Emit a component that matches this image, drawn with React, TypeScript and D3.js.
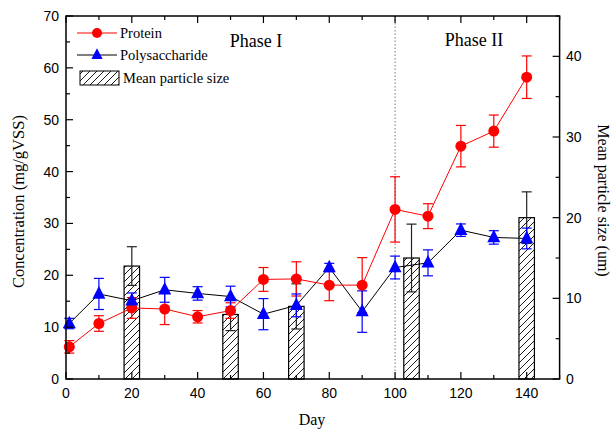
import React from 'react';
import * as d3 from 'd3';

const days = [1, 10, 20, 30, 40, 50, 60, 70, 80, 90, 100, 110, 120, 130, 140];
const protein = [6.2, 10.7, 13.7, 13.5, 12.0, 13.2, 19.2, 19.3, 18.1, 18.1, 32.7, 31.4, 44.9, 47.8, 58.2];
const proteinErr = [1.2, 1.5, 2.0, 3.0, 1.2, 1.5, 2.3, 3.3, 3.0, 5.3, 6.3, 2.4, 4.0, 3.1, 4.1];
const poly = [10.7, 16.4, 15.1, 17.2, 16.5, 15.9, 12.5, 14.2, 21.5, 13.0, 21.5, 22.4, 28.7, 27.3, 27.1];
const polyErr = [1.0, 3.0, 1.5, 2.4, 1.3, 2.0, 3.0, 2.2, 0.8, 4.0, 2.2, 2.5, 1.2, 1.3, 2.0];

const sizeDays = [20, 50, 70, 105, 140];
const sizeMean = [14.0, 8.0, 9.0, 15.0, 20.0];
const sizeErr = [2.4, 2.0, 2.8, 4.2, 3.2];

const xTicks = [0, 20, 40, 60, 80, 100, 120, 140];
const yTicks = [0, 10, 20, 30, 40, 50, 60, 70];
const y2Ticks = [0, 10, 20, 30, 40];

const m = { left: 66, right: 559.6, top: 16, bottom: 379 };
const serif = '"Liberation Serif", "Times New Roman", serif';
const sans = '"Liberation Sans", Arial, sans-serif';

export default function App() {
  const x = d3.scaleLinear().domain([0, 150]).range([m.left, m.right]);
  const y = d3.scaleLinear().domain([0, 70]).range([m.bottom, m.top]);
  const y2 = d3.scaleLinear().domain([0, 45]).range([m.bottom, m.top]);

  const line = d3.line<number>().x((d, i) => x(days[i])).y(d => y(d));
  const barW = x(4.7) - x(0);
  const cap = 5;

  const tri = (cx: number, cy: number, s: number) =>
    `M${cx},${cy - s * 0.75} L${cx + s * 0.62},${cy + s * 0.45} L${cx - s * 0.62},${cy + s * 0.45} Z`;

  const errBar = (cx: number, lo: number, hi: number, color: string, key: string) => (
    <g key={key} stroke={color} strokeWidth={1.2} fill="none">
      <line x1={cx} x2={cx} y1={lo} y2={hi} />
      <line x1={cx - cap} x2={cx + cap} y1={lo} y2={lo} />
      <line x1={cx - cap} x2={cx + cap} y1={hi} y2={hi} />
    </g>
  );

  const minorX = d3.range(0, 151, 10);
  const minorY = d3.range(0, 71, 5);
  const minorY2 = d3.range(0, 46, 5);

  return (
    <svg width={611} height={431} style={{ position: 'absolute', left: 0, top: 0, background: '#fff' }}>
      <defs>
        <pattern id="hatch" patternUnits="userSpaceOnUse" width={7} height={7}>
          <path d="M-1,8 L8,-1 M-2,2 L2,-2 M5,9 L9,5" stroke="#000" strokeWidth={0.9} />
        </pattern>
      </defs>

      {/* bars */}
      {sizeDays.map((d, i) => (
        <rect key={'b' + i} x={x(d) - barW / 2} y={y2(sizeMean[i])} width={barW}
          height={m.bottom - y2(sizeMean[i])} fill="url(#hatch)" stroke="#000" strokeWidth={1.2} />
      ))}
      {sizeDays.map((d, i) =>
        errBar(x(d), y2(sizeMean[i] - sizeErr[i]), y2(sizeMean[i] + sizeErr[i]), '#222', 'be' + i))}

      {/* phase divider */}
      <line x1={x(100)} x2={x(100)} y1={m.top} y2={m.bottom} stroke="#777" strokeWidth={1} strokeDasharray="1.5,2" />

      {/* lines */}
      <path d={line(poly) || ''} fill="none" stroke="#000" strokeWidth={1} />
      <path d={line(protein) || ''} fill="none" stroke="#ff0000" strokeWidth={1} />

      {/* error bars */}
      {days.map((d, i) => errBar(x(d), y(protein[i] - proteinErr[i]), y(protein[i] + proteinErr[i]), '#ff0000', 'pe' + i))}
      {days.map((d, i) => errBar(x(d), y(poly[i] - polyErr[i]), y(poly[i] + polyErr[i]), '#0000ff', 'ye' + i))}

      {/* markers */}
      {days.map((d, i) => <circle key={'pc' + i} cx={x(d)} cy={y(protein[i])} r={5.5} fill="#ff0000" />)}
      {days.map((d, i) => <path key={'yt' + i} d={tri(x(d), y(poly[i]), 10.5)} fill="#0000ff" />)}

      {/* frame */}
      <rect x={m.left} y={m.top} width={m.right - m.left} height={m.bottom - m.top} fill="none" stroke="#000" strokeWidth={1.5} />

      {/* x ticks bottom & top */}
      {minorX.map(t => {
        const len = t % 20 === 0 ? 7 : 4;
        return (
          <g key={'xt' + t} stroke="#000" strokeWidth={1.2}>
            <line x1={x(t)} x2={x(t)} y1={m.bottom} y2={m.bottom - len} />
            <line x1={x(t)} x2={x(t)} y1={m.top} y2={m.top + len} />
          </g>
        );
      })}
      {xTicks.map(t => (
        <text key={'xl' + t} x={x(t)} y={398} textAnchor="middle" fontFamily={sans} fontSize={14}>{t}</text>
      ))}

      {/* left ticks */}
      {minorY.map(t => (
        <line key={'yt' + t} x1={m.left} x2={m.left + (t % 10 === 0 ? 7 : 4)} y1={y(t)} y2={y(t)} stroke="#000" strokeWidth={1.2} />
      ))}
      {yTicks.map(t => (
        <text key={'yl' + t} x={59} y={y(t) + 5} textAnchor="end" fontFamily={sans} fontSize={14}>{t}</text>
      ))}

      {/* right ticks */}
      {minorY2.map(t => (
        <line key={'y2t' + t} x1={m.right} x2={m.right - (t % 10 === 0 ? 7 : 4)} y1={y2(t)} y2={y2(t)} stroke="#000" strokeWidth={1.2} />
      ))}
      {y2Ticks.map(t => (
        <text key={'y2l' + t} x={566} y={y2(t) + 5} textAnchor="start" fontFamily={sans} fontSize={14}>{t}</text>
      ))}

      {/* axis titles */}
      <text x={312} y={425} textAnchor="middle" fontFamily={serif} fontSize={16}>Day</text>
      <text transform={`translate(24,${(m.top + m.bottom) / 2 + 4}) rotate(-90)`} textAnchor="middle" fontFamily={serif} fontSize={16.5}>
        Concentration (mg/gVSS)
      </text>
      <text transform={`translate(598,${(m.top + m.bottom) / 2 + 3}) rotate(90)`} textAnchor="middle" fontFamily={serif} fontSize={16}>
        Mean particle size (um)
      </text>

      {/* phases */}
      <text x={256} y={47} textAnchor="middle" fontFamily={serif} fontSize={18}>Phase I</text>
      <text x={474} y={46} textAnchor="middle" fontFamily={serif} fontSize={18}>Phase II</text>

      {/* legend */}
      <line x1={77} x2={117} y1={33} y2={33} stroke="#ff0000" strokeWidth={1} />
      <circle cx={97} cy={33} r={5} fill="#ff0000" />
      <text x={120} y={38} fontFamily={serif} fontSize={14.5}>Protein</text>
      <line x1={77} x2={117} y1={55} y2={55} stroke="#000" strokeWidth={1} />
      <path d={tri(97, 55, 9)} fill="#0000ff" />
      <text x={120} y={60} fontFamily={serif} fontSize={14.5}>Polysaccharide</text>
      <rect x={80} y={71} width={39} height={14} fill="url(#hatch)" stroke="#000" strokeWidth={1} />
      <text x={123} y={83} fontFamily={serif} fontSize={14.5}>Mean particle size</text>
    </svg>
  );
}
